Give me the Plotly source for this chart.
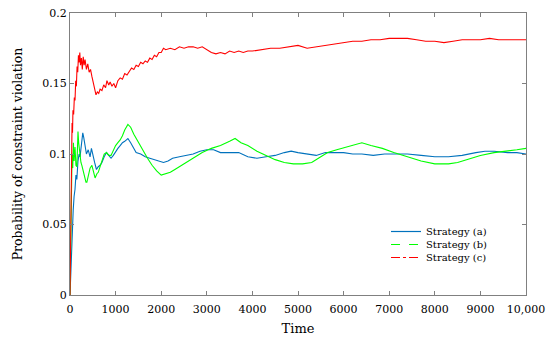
import plotly.graph_objects as go

red_x = [0,15,25,35,45,55,65,80,95,110,125,140,155,170,185,200,215,230,250,270,290,310,330,360,390,420,450,480,510,540,570,600,630,660,700,740,780,810,850,880,920,960,1000,1050,1100,1150,1200,1250,1300,1350,1400,1450,1500,1550,1600,1650,1700,1750,1800,1850,1900,1950,2000,2050,2100,2200,2300,2400,2500,2600,2700,2800,2900,3000,3100,3200,3300,3400,3500,3600,3700,3800,3900,4000,4200,4400,4600,4800,5000,5200,5400,5600,5800,6000,6200,6400,6600,6800,7000,7200,7400,7600,7800,8000,8200,8400,8600,8800,9000,9200,9400,9600,9800,10000]
red_y = [0.0,0.06,0.09,0.11,0.122,0.115,0.131,0.128,0.14,0.138,0.152,0.148,0.162,0.158,0.170,0.165,0.172,0.163,0.168,0.160,0.169,0.163,0.167,0.160,0.164,0.158,0.160,0.155,0.150,0.146,0.142,0.144,0.143,0.146,0.145,0.149,0.147,0.152,0.149,0.151,0.148,0.150,0.147,0.152,0.154,0.153,0.157,0.156,0.159,0.161,0.160,0.163,0.162,0.165,0.164,0.166,0.165,0.168,0.167,0.170,0.169,0.172,0.172,0.175,0.174,0.175,0.174,0.176,0.175,0.176,0.176,0.175,0.176,0.174,0.172,0.171,0.172,0.171,0.173,0.172,0.173,0.172,0.173,0.173,0.174,0.175,0.175,0.176,0.177,0.175,0.176,0.177,0.178,0.179,0.180,0.180,0.181,0.181,0.182,0.182,0.182,0.181,0.180,0.180,0.179,0.180,0.181,0.181,0.181,0.182,0.181,0.181,0.181,0.181]

blue_x = [0,10,20,30,40,55,70,90,110,130,150,175,200,220,250,280,300,330,360,400,440,470,500,540,580,620,660,700,750,800,850,900,950,1000,1050,1100,1150,1200,1270,1330,1400,1450,1550,1650,1750,1850,1950,2050,2150,2250,2400,2550,2700,2850,3000,3150,3300,3500,3700,3900,4100,4300,4500,4700,4850,5000,5200,5400,5600,5800,6000,6200,6400,6650,6900,7150,7400,7700,8000,8300,8600,8900,9100,9300,9600,9800,10000]
blue_y = [0.0,0.01,0.02,0.03,0.035,0.045,0.06,0.07,0.075,0.085,0.082,0.095,0.10,0.098,0.108,0.115,0.112,0.104,0.100,0.103,0.098,0.104,0.099,0.094,0.089,0.091,0.092,0.094,0.098,0.101,0.099,0.097,0.099,0.102,0.104,0.106,0.108,0.109,0.111,0.108,0.104,0.101,0.100,0.098,0.097,0.096,0.095,0.094,0.095,0.097,0.098,0.099,0.100,0.102,0.103,0.103,0.101,0.101,0.101,0.098,0.097,0.098,0.099,0.101,0.102,0.101,0.100,0.099,0.101,0.101,0.101,0.100,0.100,0.099,0.100,0.100,0.100,0.099,0.098,0.098,0.099,0.101,0.102,0.102,0.101,0.101,0.100]

green_x = [0,10,20,30,45,60,75,90,110,130,150,165,175,190,210,240,260,290,320,350,370,400,440,480,510,550,590,620,660,700,750,800,850,900,950,1000,1050,1100,1150,1200,1270,1330,1400,1500,1600,1700,1800,1900,2000,2100,2200,2300,2400,2500,2700,2900,3100,3300,3500,3620,3750,3900,4100,4300,4500,4700,4900,5100,5300,5500,5650,5850,6050,6250,6400,6600,6850,7100,7400,7700,8000,8300,8500,8800,9000,9300,9600,9800,10000]
green_y = [0.0,0.03,0.06,0.08,0.10,0.09,0.108,0.095,0.105,0.092,0.091,0.105,0.116,0.108,0.100,0.094,0.092,0.088,0.083,0.080,0.080,0.085,0.090,0.092,0.088,0.083,0.086,0.087,0.091,0.095,0.100,0.101,0.099,0.099,0.103,0.106,0.108,0.110,0.113,0.117,0.121,0.119,0.114,0.108,0.102,0.097,0.092,0.088,0.085,0.086,0.087,0.089,0.091,0.093,0.097,0.101,0.104,0.106,0.109,0.111,0.108,0.106,0.102,0.099,0.096,0.094,0.093,0.093,0.094,0.098,0.101,0.103,0.105,0.107,0.108,0.106,0.104,0.101,0.098,0.095,0.093,0.093,0.094,0.097,0.099,0.101,0.102,0.103,0.104]

series_names = ["Strategy (a)", "Strategy (b)", "Strategy (c)"]
x_tick_vals = [0,1000,2000,3000,4000,5000,6000,7000,8000,9000,10000]
x_tick_text = ["0","1000","2000","3000","4000","5000","6000","7000","8000","9000","10,000"]
y_tick_vals = [0,0.05,0.1,0.15,0.2]
y_tick_text = ["0","0.05","0.1","0.15","0.2"]

BLUE = "#0072BD"
GREEN = "#00FF00"
RED = "#FF0000"
SERIF = "DejaVu Serif"

fig = go.Figure()
fig.add_trace(go.Scatter(x=blue_x, y=blue_y, mode="lines", line=dict(color=BLUE, width=1.1), showlegend=False))
fig.add_trace(go.Scatter(x=green_x, y=green_y, mode="lines", line=dict(color=GREEN, width=1.1), showlegend=False))
fig.add_trace(go.Scatter(x=red_x, y=red_y, mode="lines", line=dict(color=RED, width=1.1), showlegend=False))
legend_ids = ["legend", "legend2", "legend3"]
for name, col, dash, lg in zip(series_names, [BLUE, GREEN, RED], ["solid", "dash", "dashdot"], legend_ids):
    fig.add_trace(go.Scatter(x=[None], y=[None], mode="lines", name=name, legend=lg,
                             line=dict(color=col, width=1.2, dash=dash)))

axis_common = dict(showline=True, linecolor="#808080", linewidth=1, mirror="allticks",
                   ticks="inside", ticklen=4, tickcolor="#808080", showgrid=False, zeroline=False,
                   automargin=False,
                   tickfont=dict(family=SERIF, size=11, color="black"))

def leg(ypix):
    return dict(x=0.693, y=1 - (ypix - 13) / 282, xanchor="left", yanchor="top",
                bgcolor="rgba(0,0,0,0)", font=dict(family=SERIF, size=10, color="black"),
                itemwidth=30, borderwidth=0)

fig.update_layout(
    width=550, height=337,
    margin=dict(l=70, r=24, t=13, b=42, autoexpand=False),
    paper_bgcolor="white", plot_bgcolor="white",
    font=dict(family=SERIF, size=11, color="black"),
    xaxis=dict(range=[0, 10000], tickvals=x_tick_vals, ticktext=x_tick_text, ticklabelstandoff=4,
               title=dict(text="Time", font=dict(family=SERIF, size=13), standoff=8), **axis_common),
    yaxis=dict(range=[0, 0.2], tickvals=y_tick_vals, ticktext=y_tick_text,
               title=dict(text="Probability of constraint violation", font=dict(family=SERIF, size=12.5), standoff=16), **axis_common),
    legend=leg(217), legend2=leg(230), legend3=leg(243),
)

fig.write_html("out.html", post_script="document.body.style.margin='0px';",
               config={"displayModeBar": False})
